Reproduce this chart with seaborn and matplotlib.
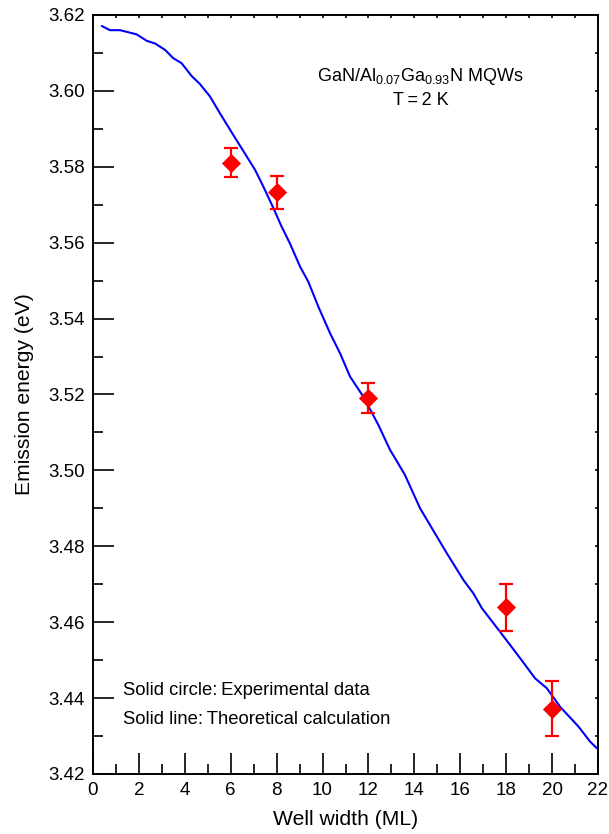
import matplotlib
matplotlib.use("Agg")
import matplotlib.pyplot as plt
import seaborn as sns
import pandas as pd
from matplotlib.ticker import MultipleLocator

# Theoretical curve
well_width_theory = [0.38, 0.74, 1.18, 1.9, 2.34, 2.7, 3.14, 3.5, 3.86, 4.3, 4.66, 5.1,
                     5.53, 6.11, 6.7, 7.06, 7.42, 7.86, 8.22, 8.58, 9.02, 9.38, 9.82,
                     10.33, 10.76, 11.2, 11.78, 12.43, 12.94, 13.16, 13.59, 14.25, 15.41,
                     16.14, 16.57, 16.94, 17.73, 18.61, 19.26, 19.77, 20.35, 21.15, 21.66, 21.95]
energy_theory = [3.6171, 3.6160, 3.6160, 3.6149, 3.6132, 3.6125, 3.6108, 3.6086, 3.6073,
                 3.6039, 3.6018, 3.5985, 3.5941, 3.5884, 3.5827, 3.5792, 3.5748, 3.5691,
                 3.5642, 3.5598, 3.5537, 3.5497, 3.5431, 3.5361, 3.5309, 3.5247, 3.5194,
                 3.5120, 3.5054, 3.5032, 3.4988, 3.4900, 3.4782, 3.4711, 3.4676, 3.4637,
                 3.4575, 3.4505, 3.4452, 3.4426, 3.4377, 3.4325, 3.4285, 3.4268]

# Experimental data
well_width_exp = [6, 8, 12, 18, 20]
energy_exp = [3.5811, 3.5733, 3.5191, 3.4639, 3.4372]
energy_err = [0.0038, 0.0043, 0.0039, 0.0061, 0.0072]

x_ticks = [0, 2, 4, 6, 8, 10, 12, 14, 16, 18, 20, 22]
y_ticks = [3.42, 3.44, 3.46, 3.48, 3.50, 3.52, 3.54, 3.56, 3.58, 3.60, 3.62]

sns.set_theme(style="white")
plt.rcParams['font.family'] = ['Liberation Sans', 'DejaVu Sans']
plt.rcParams['text.color'] = 'black'
plt.rcParams['axes.labelcolor'] = 'black'
plt.rcParams['mathtext.fontset'] = 'custom'
plt.rcParams['mathtext.rm'] = 'Liberation Sans'
plt.rcParams['mathtext.it'] = 'Liberation Sans'

df_theory = pd.DataFrame({"w": well_width_theory, "e": energy_theory})
df_exp = pd.DataFrame({"w": well_width_exp, "e": energy_exp, "err": energy_err})

fig = plt.figure(figsize=(6.09, 8.34), dpi=100)
ax = fig.add_axes([93/609, 1-774/834, (598-93)/609, (774-15)/834])

sns.lineplot(data=df_theory, x="w", y="e", ax=ax, color="#0000ff", linewidth=1.5,
             estimator=None, sort=False)
ax.errorbar(df_exp["w"], df_exp["e"], yerr=df_exp["err"], fmt="none",
            ecolor="#ff0000", elinewidth=1.6, capsize=5, capthick=1.6, zorder=3)
sns.scatterplot(data=df_exp, x="w", y="e", ax=ax, marker="D", s=95, color="#ff0000",
                edgecolor="#ff0000", linewidth=0, zorder=4)

ax.set_xlim(0, 22)
ax.set_ylim(3.42, 3.62)
ax.set_xticks(x_ticks)
ax.set_yticks(y_ticks)
ax.set_xticklabels([str(v) for v in x_ticks])
ax.set_yticklabels([f"{v:.2f}" for v in y_ticks])
ax.xaxis.set_minor_locator(MultipleLocator(1))
ax.yaxis.set_minor_locator(MultipleLocator(0.01))

ax.tick_params(axis="both", which="both", bottom=True, left=True, top=True, right=True)
ax.tick_params(axis="both", which="major", direction="in", length=15, width=1.2,
               labelsize=13.5, color="black", labelcolor="black", pad=6)
ax.tick_params(axis="both", which="minor", direction="in", length=7, width=1.2,
               color="black")
# top/right ticks are very short in the reference
for t in ax.xaxis.get_major_ticks() + ax.xaxis.get_minor_ticks():
    t.tick2line.set_markersize(2)
for t in ax.yaxis.get_major_ticks() + ax.yaxis.get_minor_ticks():
    t.tick2line.set_markersize(2)

for s in ax.spines.values():
    s.set_color("black")
    s.set_linewidth(1.4)

ax.set_xlabel("Well width (ML)", fontsize=15.2, labelpad=8)
ax.set_ylabel("Emission energy (eV)", fontsize=15.2, labelpad=10)

ax.text(14.25, 3.6037, r"GaN/Al$_{0.07}$Ga$_{0.93}$N MQWs", ha="center", va="center",
        fontsize=13)
ax.text(14.3, 3.5976, "T\u2009=\u20092 K", ha="center", va="center", fontsize=13,
        family=['Liberation Sans', 'DejaVu Sans'])
ax.text(1.29, 3.4420, "Solid circle:\u2009Experimental data", ha="left", va="center",
        fontsize=13.3, family=['Liberation Sans', 'DejaVu Sans'])
ax.text(1.29, 3.4343, "Solid line:\u2009Theoretical calculation", ha="left", va="center",
        fontsize=13.3, family=['Liberation Sans', 'DejaVu Sans'])

fig.savefig("out.png", dpi=100)
